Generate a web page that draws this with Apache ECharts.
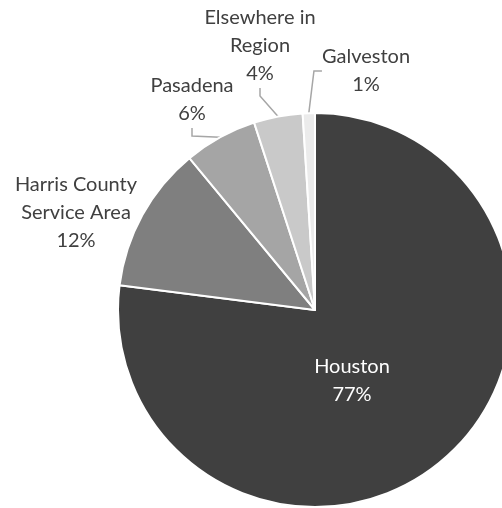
<!DOCTYPE html>
<html><head><meta charset="utf-8">
<script src="https://cdn.jsdelivr.net/npm/echarts@6/dist/echarts.min.js"></script>
<style>html,body{margin:0;padding:0;background:#fff}#c{width:502px;height:508px}</style>
</head><body><div id="c"></div>
<script>
var categories = ['Houston', 'Harris County\nService Area', 'Pasadena', 'Elsewhere in\nRegion', 'Galveston'];
var shares = [77, 12, 6, 4, 1];
var colors = ['#404040', '#7f7f7f', '#a5a5a5', '#c9c9c9', '#ebebeb'];
// label anchor points (styling only)
var labelPos = [
  {x: 352, y: 381},
  {x: 76, y: 213},
  {x: 192, y: 100},
  {x: 260, y: 46},
  {x: 366, y: 71}
];
var chart = echarts.init(document.getElementById('c'));
chart.setOption({
  animation: false,
  series: [{
    type: 'pie',
    center: [315, 310],
    radius: [0, 197],
    startAngle: 90,
    clockwise: true,
    avoidLabelOverlap: false,
    data: categories.map(function (n, i) {
      var d = {name: n, value: shares[i], itemStyle: {color: colors[i]}};
      if (i === 0) {
        d.label = {position: 'inside', color: '#ffffff'};
        d.labelLine = {show: false};
      }
      if (i === 1) {
        d.labelLine = {show: false};
      }
      return d;
    }),
    itemStyle: {borderColor: '#ffffff', borderWidth: 2},
    label: {
      show: true,
      position: 'outside',
      formatter: '{b}\n{c}%',
      fontFamily: 'Lato',
      fontSize: 20,
      lineHeight: 28,
      color: '#404040',
      align: 'center',
      overflow: 'none',
      edgeDistance: 0
    },
    labelLine: {show: true, length: 8, length2: 8, lineStyle: {color: '#a6a6a6', width: 1.5}},
    labelLayout: function (p) {
      var lp = labelPos[p.dataIndex];
      return {x: lp.x, y: lp.y, align: 'center', verticalAlign: 'middle'};
    }
  }]
});
</script></body></html>
